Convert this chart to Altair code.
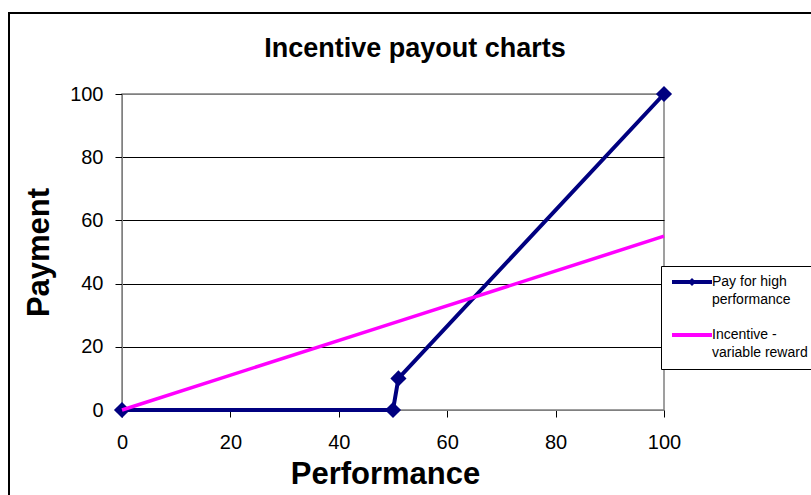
import altair as alt
import pandas as pd

# ---- data ----
series_names = ["Pay for high performance", "Incentive - variable reward"]
perf_high = [0, 50, 51, 100]
pay_high = [0, 0, 10, 100]
perf_incentive = [0, 50, 100]
pay_incentive = [0, 27.5, 55]
tick_values = [0, 20, 40, 60, 80, 100]
colors = ["#000080", "#FF00FF"]

df_high = pd.DataFrame({"Performance": perf_high, "Payment": pay_high, "Series": series_names[0]})
df_inc = pd.DataFrame({"Performance": perf_incentive, "Payment": pay_incentive, "Series": series_names[1]})
df_all = pd.concat([df_high, df_inc], ignore_index=True)

FONT = "Liberation Sans"

x_enc = alt.X("Performance:Q",
              scale=alt.Scale(domain=[0, 100], nice=False, zero=False),
              axis=alt.Axis(values=tick_values, title="Performance", grid=False,
                            labelFont=FONT, labelFontSize=20, labelColor="black",
                            labelPadding=15, labelFlush=False, tickColor="black", tickSize=7,
                            domainColor="#808080", titleFont=FONT, titleFontSize=31,
                            titleFontWeight="bold", titleColor="black", titlePadding=7,
                            titleX=263))
y_enc = alt.Y("Payment:Q",
              scale=alt.Scale(domain=[0, 100], nice=False),
              axis=alt.Axis(values=tick_values, title="Payment",
                            grid=True,
                            gridColor=alt.condition("datum.value == 100", alt.value("#808080"), alt.value("#000000")),
                            gridWidth=1,
                            labelFont=FONT, labelFontSize=20, labelColor="black",
                            labelPadding=12, tickColor="black", tickSize=7,
                            domainColor="#808080", titleFont=FONT, titleFontSize=31,
                            titleFontWeight="bold", titleColor="black", titlePadding=14))

LINE_DIAMOND = "M-4,-0.4H4V0.4H-4Z M0,-0.8L0.8,0L0,0.8L-0.8,0Z"
LINE_ONLY = "M-4,-0.4H4V0.4H-4Z"

legend = alt.Legend(
    title=None, orient="none", legendX=539, legendY=172, direction="vertical",
    labelFont=FONT, labelFontSize=14, labelColor="black", labelLimit=300,
    labelBaseline="middle", labelOffset=13,
    symbolSize=100, symbolStrokeWidth=0, symbolOffset=15, symbolOpacity=1,
    strokeColor="black", fillColor="white", padding=9, rowPadding=21,
    labelExpr="datum.label == 'Pay for high performance' ? ['Pay for high', 'performance'] : ['Incentive -', 'variable reward']",
)

legend_layer = alt.Chart(df_all).mark_point(filled=True, opacity=0, size=100).encode(
    x=x_enc, y=y_enc,
    color=alt.Color("Series:N", scale=alt.Scale(domain=series_names, range=colors), legend=legend),
    shape=alt.Shape("Series:N", scale=alt.Scale(domain=series_names, range=[LINE_DIAMOND, LINE_ONLY]), legend=legend),
)

line_high = alt.Chart(df_high).mark_line(strokeWidth=4, color=colors[0]).encode(x="Performance:Q", y="Payment:Q")
pts_high = alt.Chart(df_high).mark_point(shape="diamond", filled=True, size=260, opacity=1,
                                         color=colors[0]).encode(x="Performance:Q", y="Payment:Q")
line_inc = alt.Chart(df_inc).mark_line(strokeWidth=3.5, color=colors[1]).encode(x="Performance:Q", y="Payment:Q")

frame = alt.Chart(pd.DataFrame({"a": [0]})).mark_rect(
    fillOpacity=0, stroke="black", strokeWidth=2
).encode(x=alt.value(-113), x2=alt.value(720), y=alt.value(-81), y2=alt.value(430))

chart = alt.layer(frame, legend_layer, line_high, pts_high, line_inc).properties(
    width=542, height=316,
    title=alt.Title("Incentive payout charts", font=FONT, fontSize=27, fontWeight="bold",
                    color="black", anchor="middle", dx=22, offset=-51),
    autosize=alt.AutoSizeParams(type="none"),
    padding={"left": 122, "top": 94, "right": 147, "bottom": 85},
    background="white",
).configure(
    style={"guide-label": {"lineHeight": 18}}
).configure_view(stroke="#808080", strokeWidth=1.5)

chart.save("out.html", embed_options={"renderer": "svg", "actions": False})
